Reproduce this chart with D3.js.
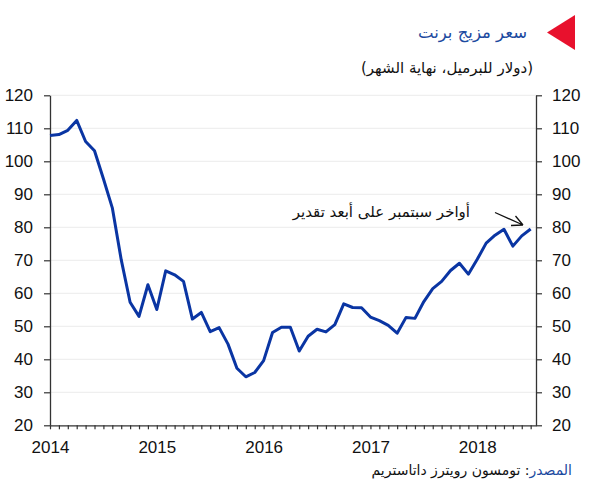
<!DOCTYPE html>
<html><head><meta charset="utf-8">
<script src="https://cdn.jsdelivr.net/npm/d3@7"></script>
<style>
html,body{margin:0;padding:0;background:#fff;}
svg{display:block;}
</style></head>
<body>
<script>
(function(){
// Brent monthly (end of month), Mar 2014 .. Sep 2018
const months = d3.range(55).map(i => {
  const d = new Date(2014, 2 + i, 1);
  return d.getFullYear() + "-" + String(d.getMonth() + 1).padStart(2, "0");
});
const brent = [107.8,108.1,109.4,112.4,106.0,103.2,94.7,85.9,70.2,57.3,
  53.0,62.6,55.1,66.8,65.6,63.6,52.2,54.2,48.4,49.6,44.6,37.3,
  34.7,36.0,39.6,48.1,49.7,49.7,42.5,47.0,49.1,48.3,50.5,56.8,
  55.7,55.6,52.8,51.7,50.3,47.9,52.7,52.4,57.5,61.4,63.6,66.9,
  69.1,65.8,70.3,75.2,77.6,79.4,74.3,77.4,79.5];
const yTicks = [20,30,40,50,60,70,80,90,100,110,120];
const yearLabels = ["2014","2015","2016","2017","2018"];
const yearIdx = [0,12,24,36,48];
const title = "سعر مزيج برنت";
const subtitle = "(دولار للبرميل، نهاية الشهر)";
const annotation = "أواخر سبتمبر على أبعد تقدير";
const sourceLabel = "المصدر";
const sourceText = ": تومسون رويترز داتاستريم";

const W = 600, H = 503;
const mL = 50, mR = 536, mT = 95.3, mB = 425.3;
const svg = d3.select("body").append("svg").attr("width", W).attr("height", H);
const x = d3.scaleLinear().domain([0, 54.6]).range([mL, mR]);
const y = d3.scaleLinear().domain([20, 120]).range([mB, mT]);
const numFont = "'Liberation Sans', Arial, sans-serif";
const arFont = "'DejaVu Sans', 'Liberation Sans', sans-serif";

svg.append("g").selectAll("line").data(yTicks.filter(v => v > 20)).join("line")
  .attr("x1", mL).attr("x2", mR)
  .attr("y1", d => y(d)).attr("y2", d => y(d))
  .attr("stroke", "#ececec").attr("stroke-width", 1);

const gl = svg.append("g").attr("transform", `translate(${mL},0)`)
  .call(d3.axisLeft(y).tickValues(yTicks).tickSize(6).tickPadding(11).tickSizeOuter(0));
const gr = svg.append("g").attr("transform", `translate(${mR},0)`)
  .call(d3.axisRight(y).tickValues(yTicks).tickSize(6).tickPadding(10).tickSizeOuter(0));
const gb = svg.append("g").attr("transform", `translate(0,${mB})`)
  .call(d3.axisBottom(x).tickValues(d3.range(0, 55)).tickSize(4).tickSizeOuter(0).tickFormat(""));
const gbl = svg.append("g").attr("transform", `translate(0,${mB})`)
  .call(d3.axisBottom(x).tickValues(yearIdx).tickSize(0).tickPadding(16)
    .tickFormat((d, i) => yearLabels[i]));
gbl.select(".domain").remove();

[gl, gr, gb, gbl].forEach(g => {
  g.selectAll(".domain").attr("stroke", "#333").attr("stroke-width", 1.3);
  g.selectAll(".tick line").attr("stroke", "#333").attr("stroke-width", 1.2);
  g.selectAll("text").attr("font-family", numFont).attr("font-size", 17).attr("fill", "#111");
});

svg.append("path").datum(brent)
  .attr("fill", "none").attr("stroke", "#0a35a3").attr("stroke-width", 3)
  .attr("stroke-linejoin", "round")
  .attr("d", d3.line().x((d, i) => x(i)).y(d => y(d)));

svg.append("path").attr("d", "M547,32.5 L575,15 L575,50 Z").attr("fill", "#e8112d");
svg.append("text").attr("x", 527).attr("y", 38).attr("direction", "rtl")
  .attr("text-anchor", "start").attr("font-family", arFont).attr("font-size", 16.5)
  .attr("fill", "#1c4aa0").text(title);
svg.append("text").attr("x", 533).attr("y", 73).attr("direction", "rtl")
  .attr("text-anchor", "start").attr("font-family", arFont).attr("font-size", 15)
  .attr("fill", "#111").text(subtitle);

svg.append("text").attr("x", 470).attr("y", 217).attr("direction", "rtl")
  .attr("text-anchor", "start").attr("font-family", arFont).attr("font-size", 15)
  .attr("fill", "#111").text(annotation);
svg.append("path").attr("d", "M495,212.5 L523,225 M523,225 L511,225.5 M523,225 L515.5,216")
  .attr("stroke", "#111").attr("stroke-width", 1.3).attr("fill", "none");

const st = svg.append("text").attr("x", 572).attr("y", 475).attr("direction", "rtl")
  .attr("text-anchor", "start").attr("font-family", arFont).attr("font-size", 14);
st.append("tspan").attr("fill", "#1c4aa0").text(sourceLabel);
st.append("tspan").attr("fill", "#111").text(sourceText);
})();
</script>
</body></html>
